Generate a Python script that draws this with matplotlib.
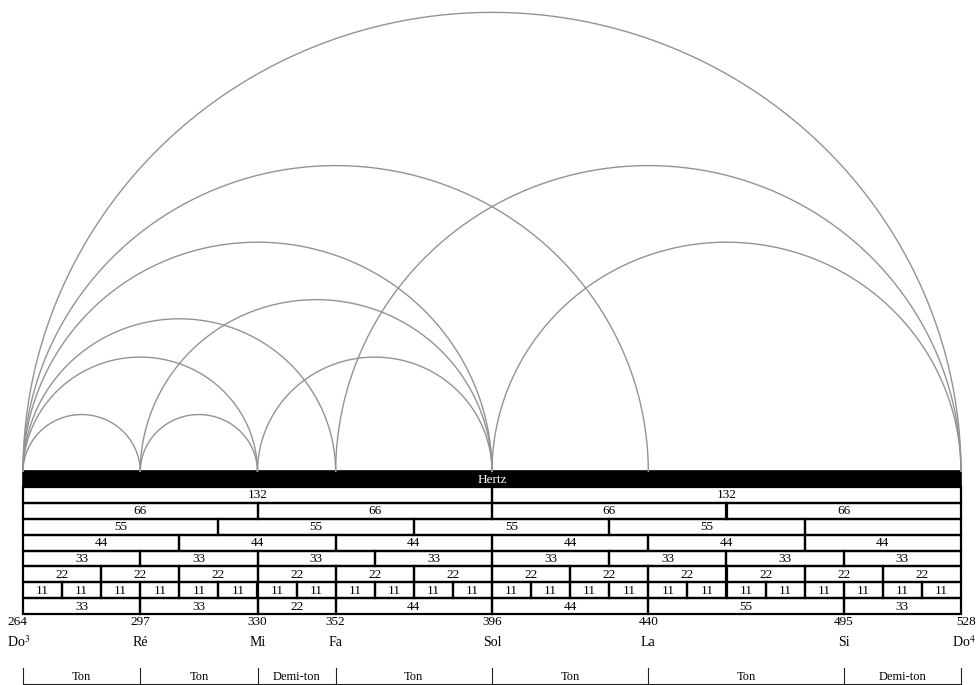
import numpy as np
import matplotlib
matplotlib.use("Agg")
import matplotlib.pyplot as plt
import matplotlib.patches as patches

plt.rcParams['font.family'] = ['Liberation Serif', 'DejaVu Serif']
plt.rcParams['mathtext.fontset'] = 'stix'

# Notes of the scale (Hz)
note_hz = [264, 297, 330, 352, 396, 440, 495, 528]
note_names = ['Do$^{3}$', 'Ré', 'Mi', 'Fa', 'Sol', 'La', 'Si', 'Do$^{4}$']
step_names = ['Ton', 'Ton', 'Demi-ton', 'Ton', 'Ton', 'Ton', 'Demi-ton']

# Arcs (start Hz, end Hz)
arc_start = [264, 264, 352, 264, 396, 297, 264, 264, 330, 264, 297]
arc_end = [528, 440, 528, 396, 528, 396, 352, 330, 396, 297, 330]

# Table rows: widths of cells in Hz (from 264 onwards)
cells_132 = [132, 132]
cells_66 = [66, 66, 66, 66]
cells_55 = [55, 55, 55, 55, 44]
cells_44 = [44, 44, 44, 44, 44, 44]
cells_33 = [33, 33, 33, 33, 33, 33, 33, 33]
cells_22 = [22, 22, 22, 22, 22, 22, 22, 22, 22, 22, 22, 22]
cells_11 = [11] * 24
cells_steps = [33, 33, 22, 44, 44, 55, 33]
rows = [cells_132, cells_66, cells_55, cells_44, cells_33, cells_22, cells_11, cells_steps]
blank_cells = {(2, 4)}  # last cell of the 55 row has no label

# Layout (pixels, y from top)
W, H = 978, 685
X0_PX, X1_PX = 23, 961
PX_PER_HZ = (X1_PX - X0_PX) / (note_hz[-1] - note_hz[0])
ARC_BASE = 472
BAR_TOP = 471
BAR_H = 16
ROW_H = 15.9

fig = plt.figure(figsize=(W / 100, H / 100), dpi=100)
ax = fig.add_axes([0, 0, 1, 1])
ax.set_xlim(note_hz[0] - X0_PX / PX_PER_HZ, note_hz[-1] + (W - X1_PX) / PX_PER_HZ)
ax.set_ylim(H, 0)
ax.axis('off')

# Semicircular arcs (pencil grey)
t = np.linspace(0, np.pi, 300)
for a, b in zip(arc_start, arc_end):
    c = (a + b) / 2
    r = (b - a) / 2
    xs = c + r * np.cos(t)
    ys = ARC_BASE - r * PX_PER_HZ * 0.98 * np.sin(t)
    ax.plot(xs, ys, color='#939393', lw=1.0, solid_capstyle='butt')

# Header bar
ax.add_patch(patches.Rectangle((note_hz[0], BAR_TOP), note_hz[-1] - note_hz[0], BAR_H,
                               facecolor='black', edgecolor='black', lw=1.2))
ax.text((note_hz[0] + note_hz[-1]) / 2, BAR_TOP + BAR_H / 2 + 0.5, 'Hertz',
        color='white', ha='center', va='center', fontsize=9.5)

# Table rows
y0 = BAR_TOP + BAR_H
for i, cells in enumerate(rows):
    x = note_hz[0]
    for j, w in enumerate(cells):
        ax.add_patch(patches.Rectangle((x, y0), w, ROW_H, fill=False,
                                       edgecolor='black', lw=1.6))
        if (i, j) not in blank_cells:
            ax.text(x + w / 2, y0 + ROW_H / 2 + 0.5, str(w), ha='center',
                    va='center', fontsize=9.5)
        x += w
    y0 += ROW_H

# Frequency values and note names
last = len(note_hz) - 1
for k, (hz, name) in enumerate(zip(note_hz, note_names)):
    if k == 0:
        xpos, ha = hz - 16 / PX_PER_HZ, 'left'
    elif k == last:
        xpos, ha = hz + 15 / PX_PER_HZ, 'right'
    else:
        xpos, ha = hz, 'center'
    ax.text(xpos, 622, str(hz), ha=ha, va='center', fontsize=9.5)
    ax.text(xpos, 642, name, ha=ha, va='center', fontsize=10)

# Tone / semitone brackets
ax.plot([note_hz[0], note_hz[-1]], [684, 684], color='#222222', lw=0.8)
for hz in note_hz:
    ax.plot([hz, hz], [668, 684], color='#222222', lw=0.8)
for a, b, s in zip(note_hz[:-1], note_hz[1:], step_names):
    ax.text((a + b) / 2, 677, s, ha='center', va='center', fontsize=9)

fig.savefig('out.png', dpi=100)
